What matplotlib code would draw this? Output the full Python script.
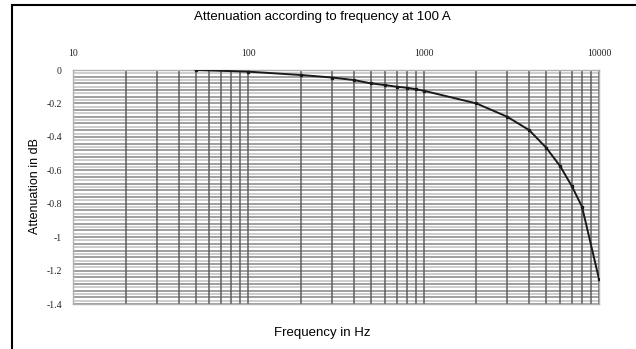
import matplotlib

matplotlib.use("Agg")
import matplotlib.pyplot as plt
import numpy as np
from matplotlib.patches import Rectangle
from matplotlib.ticker import FixedLocator, NullFormatter

freq_hz = [50, 100, 200, 300, 400, 500, 600, 700, 800, 900, 1000,
           2000, 3000, 4000, 5000, 6000, 7000, 8000, 10000]
atten_db = [0.0, -0.01, -0.03, -0.045, -0.06, -0.08, -0.09, -0.10, -0.106, -0.115, -0.124,
            -0.20, -0.28, -0.36, -0.465, -0.575, -0.695, -0.818, -1.25]

x_ticks = [10, 100, 1000, 10000]
x_ticklabels = ["10", "100", "1000", "10000"]
y_ticks = [0, -0.2, -0.4, -0.6, -0.8, -1, -1.2, -1.4]
y_ticklabels = ["0", "-0.2", "-0.4", "-0.6", "-0.8", "-1", "-1.2", "-1.4"]

fig = plt.figure(figsize=(6.36, 3.49), dpi=100)
ax = fig.add_axes([73 / 636, 1 - 304 / 349, 526 / 636, 234 / 349])

ax.set_xscale("log")
ax.set_xlim(10, 10000)
ax.set_ylim(-1.4, 0)

# horizontal grid every 0.02, alternating tones
for i, yv in enumerate(np.arange(0, -1.4001, -0.02)):
    c = "#858585" if i % 2 == 0 else "#c0c0c0"
    ax.axhline(yv, color=c, lw=1.1, zorder=1)

# vertical log grid
ax.xaxis.set_minor_locator(FixedLocator(
    [m * 10 ** d for d in (1, 2, 3) for m in range(2, 10)]))
ax.grid(True, which="both", axis="x", color="#5e5e5e", lw=1.1, zorder=1)

ax.plot(freq_hz, atten_db, color="#1a1a1a", lw=1.4, marker="s", ms=1.6, zorder=3)

ax.xaxis.tick_top()
ax.set_xticks(x_ticks)
ax.set_xticklabels(x_ticklabels, family="Liberation Serif", fontsize=7)
ax.xaxis.set_minor_formatter(NullFormatter())
ax.set_yticks(y_ticks)
ax.set_yticklabels(y_ticklabels, family="Liberation Serif", fontsize=7)
ax.tick_params(which="both", length=0, pad=9, colors="#222222")
ax.tick_params(axis="y", pad=8)
for s in ax.spines.values():
    s.set_color("#b0b0b0")
    s.set_linewidth(1.0)

fig.text(322 / 636, 1 - 17 / 349, "Attenuation according to frequency at 100 A",
         ha="center", va="center", family="Liberation Sans", fontsize=9.5)
fig.text(322 / 636, 1 - 333 / 349, "Frequency in Hz",
         ha="center", va="center", family="Liberation Sans", fontsize=9.5)
fig.text(35 / 636, 1 - 186 / 349, "Attenuation in dB", rotation=90,
         ha="center", va="center", family="Liberation Sans", fontsize=9)

# outer frame
fig.patches.append(Rectangle((11.5 / 636, -0.02), 1.0, 1 - 4.5 / 349 + 0.02,
                             transform=fig.transFigure, fill=False,
                             edgecolor="black", lw=1.5))

fig.savefig("out.png", dpi=100)
